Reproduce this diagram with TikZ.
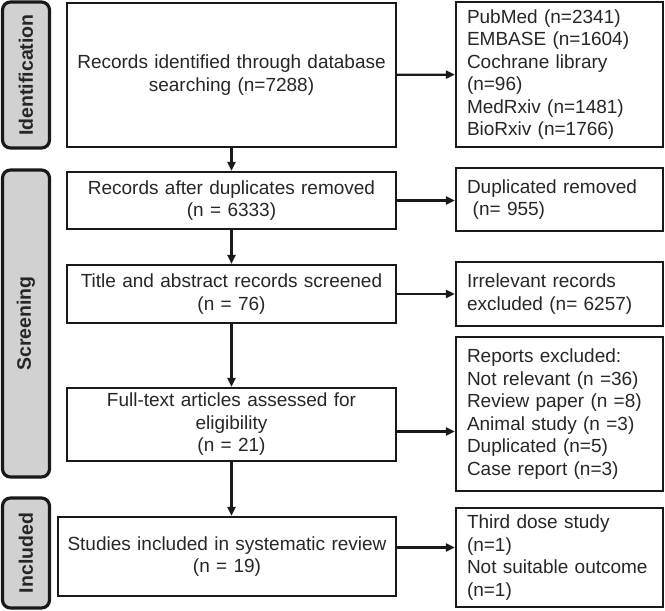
\documentclass[tikz,border=0pt]{standalone}
\usepackage{fontspec}
\setmainfont{Liberation Sans}
\usetikzlibrary{arrows.meta}

\tikzset{
    box/.style={draw=black!90, line width=2.2pt, text=black!85, align=center,
        inner xsep=4.5pt, font=\fontsize{19}{22.5}\selectfont},
    note/.style={draw=black!90, line width=2.2pt, text=black!85, align=left,
        inner xsep=11pt, text width=185pt, font=\fontsize{19}{22.5}\selectfont},
    side/.style={draw=black!90, line width=3.2pt, fill=black!18, rounded corners=8pt,
        rotate=90, minimum height=47pt, text=black!85,
        font=\fontsize{19.5}{22.5}\selectfont\bfseries},
    arr/.style={-{Triangle[length=9pt,width=8pt]}, line width=2.2pt, draw=black!90},
}

\begin{document}
\hyphenpenalty=10000
\begin{tikzpicture}[x=1pt, y=-1pt]
    \useasboundingbox (0,0) rectangle (665,611);

    % stage labels
    \node[side, minimum width=146pt] (ident) at (26,75) {Identification};
    \node[side, minimum width=307pt] (screen) at (26,323.5) {Screening};
    \node[side, minimum width=110pt] (incl) at (26,553) {Included};

    % main column
    \node[box, text width=320pt, minimum height=144pt] (found) at (231.5,75)
        {Records identified through database\\searching (n=7288)};
    \node[box, text width=320pt, minimum height=57pt] (dedup) at (231.5,200.5)
        {Records after duplicates removed\\(n = 6333)};
    \node[box, text width=320pt, minimum height=58pt] (screened) at (231.5,294)
        {Title and abstract records screened\\(n = 76)};
    \node[box, text width=320pt, minimum height=73pt] (fulltext) at (231.5,424.5)
        {Full-text articles assessed for\\eligibility\\(n = 21)};
    \node[box, text width=329pt, minimum height=79pt] (review) at (227,556.5)
        {Studies included in systematic review\\(n = 19)};

    % side column
    \node[note, minimum height=145pt] (sources) at (559.5,74.5)
        {PubMed (n=2341)\\EMBASE (n=1604)\\Cochrane library\\(n=96)\\MedRxiv (n=1481)\\BioRxiv (n=1766)};
    \node[note, minimum height=63pt] (dupl) at (559.5,199.5)
        {Duplicated removed\\\hspace{0.3em}(n= 955)};
    \node[note, minimum height=64pt] (irrel) at (559.5,294)
        {Irrelevant records\\excluded (n= 6257)};
    \node[note, minimum height=154pt] (reports) at (559.5,414)
        {Reports excluded:\\Not relevant (n =36)\\Review paper (n =8)\\Animal study (n =3)\\Duplicated (n=5)\\Case report (n=3)};
    \node[note, minimum height=99pt] (other) at (559.5,557.5)
        {Third dose study\\(n=1)\\Not suitable outcome\\(n=1)};

    % flow
    \draw[arr] (found) -- (dedup);
    \draw[arr] (dedup) -- (screened);
    \draw[arr] (screened) -- (fulltext);
    \draw[arr] (fulltext.south) -- (fulltext.south |- review.north);

    \draw[arr] (found) -- (sources);
    \draw[arr] (dedup.east) -- (dedup.east -| dupl.west);
    \draw[arr] (screened) -- (irrel);
    \draw[arr] ([yshift=-7pt]fulltext.east) -- ([yshift=-7pt]fulltext.east -| reports.west);
    \draw[arr] ([yshift=9pt]review.east) -- ([yshift=9pt]review.east -| other.west);
\end{tikzpicture}
\end{document}
